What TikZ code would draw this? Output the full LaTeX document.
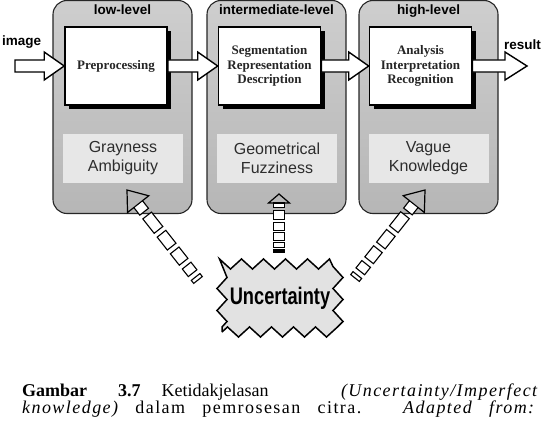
\documentclass[tikz,border=0pt]{standalone}
\usepackage{fontspec}
\setmainfont{Liberation Serif}
\setsansfont{Liberation Sans}
\newfontfamily\uncfont[FakeStretch=0.76]{Liberation Sans}
\usepackage{tikz}
\usepackage{xcolor}
\usetikzlibrary{calc,shapes,positioning,shadows,decorations.pathmorphing}
\definecolor{paneltop}{RGB}{206,206,206}
\definecolor{panelbot}{RGB}{182,182,182}
\definecolor{vague}{RGB}{231,231,231}
\definecolor{inktext}{RGB}{45,45,45}
\definecolor{cloudfill}{RGB}{226,226,226}
\newcommand{\bigarrow}[3]{%
  \draw[bigarr] let \p1=(#1), \p2=(#2) in
    (\x1,\y1+6pt) -- (\x2-#3,\y1+6pt) -- (\x2-#3,\y1+14pt) -- (\x2,\y1)
    -- (\x2-#3,\y1-14pt) -- (\x2-#3,\y1-6pt) -- (\x1,\y1-6pt) -- cycle;
}
\newcommand{\uncarrow}[4]{%
  \coordinate (#1-hb) at ($(#2)!#3!(#1)$);
  \foreach \a/\b in {0/0.04, 0.09/0.19, 0.24/0.39, 0.44/0.61, 0.66/0.85, 0.9/1}{
    \draw[dashbox] ($(#1)!\a!(#1-hb)!5.5pt!90:(#2)$) -- ($(#1)!\b!(#1-hb)!5.5pt!90:(#2)$)
      -- ($(#1)!\b!(#1-hb)!5.5pt!-90:(#2)$) -- ($(#1)!\a!(#1-hb)!5.5pt!-90:(#2)$) -- cycle;
  }
  \draw[unchead] ($(#1-hb)!5.5pt!90:(#2)$) -- ($(#1-hb)!#4!90:(#2)$) -- (#2)
    -- ($(#1-hb)!#4!-90:(#2)$) -- ($(#1-hb)!5.5pt!-90:(#2)$);
}

\begin{document}
\begin{tikzpicture}[x=1pt, y=-1pt,
    panel/.style={draw=black!85, line width=1.1pt, rounded corners=14pt,
        top color=paneltop, bottom color=panelbot,
        minimum width=139pt, minimum height=213pt, inner sep=0pt},
    hdr/.style={font=\sffamily\bfseries\fontsize{13.5}{15}\selectfont, inner sep=1pt},
    lvlbox/.style={draw, line width=1.6pt, fill=white, align=center,
        minimum width=102pt, minimum height=78pt, inner sep=2pt,
        drop shadow={shadow xshift=4pt, shadow yshift=-4pt, fill=black, opacity=1},
        font=\bfseries\fontsize{13}{14.5}\selectfont, text=black!85},
    vaguebox/.style={fill=vague, minimum width=120pt, minimum height=49pt,
        align=center, text=inktext, font=\sffamily\fontsize{16}{19}\selectfont},
    bigarr/.style={draw, line width=1.4pt, fill=white, line join=miter},
    dashbox/.style={draw, line width=1.1pt, fill=white},
    unchead/.style={draw, line width=1.2pt, line join=miter},
    cloudbox/.style={draw, line width=1.5pt, fill=cloudfill,
        decorate, decoration={zigzag, segment length=22pt, amplitude=5pt},
        minimum width=116pt, minimum height=68pt,
        font=\uncfont\bfseries\fontsize{24}{24}\selectfont},
    iolabel/.style={font=\sffamily\bfseries\fontsize{13.5}{14}\selectfont, inner sep=0pt},
    capline/.style={inner sep=0pt, anchor=base west, font=\fontsize{18}{18}\selectfont}]
    \useasboundingbox (0,0) rectangle (543,420);

    \node[panel] (low) at (122.5,107) {};
    \node[panel] (mid) at (276.5,107) {};
    \node[panel] (high) at (428.5,107) {};

    \node[hdr, below=4pt of low.north] (lowhdr) {low-level};
    \node[hdr, below=4pt of mid.north] (midhdr) {intermediate-level};
    \node[hdr, below=4pt of high.north] (highhdr) {high-level};

    \node[vaguebox] (gray) at (123,158.5) {Grayness\\Ambiguity};
    \node[vaguebox] (geom) at (277,158.5) {Geometrical\\Fuzziness};
    \node[vaguebox] (know) at (428.5,158.5) {Vague\\Knowledge};

    \node[cloudbox] (unc) at (280,298) {Uncertainty};
    \coordinate (ltail) at (198,280);
    \coordinate (ltip) at (127,190);
    \coordinate (mtail) at (279,252);
    \coordinate (mtip) at (279,194);
    \coordinate (rtail) at (355,278);
    \coordinate (rtip) at (425,190);
    \uncarrow{ltail}{ltip}{18pt}{13.5pt}
    \uncarrow{mtail}{mtip}{9pt}{10.5pt}
    \uncarrow{rtail}{rtip}{18pt}{13.5pt}

    \node[lvlbox] (prep) at (116,66) {Preprocessing};
    \node[lvlbox] (seg) at (269.5,66) {Segmentation\\Representation\\Description};
    \node[lvlbox] (ana) at (420.5,66) {Analysis\\Interpretation\\Recognition};

    \coordinate (imgin) at (15,66);
    \coordinate (resout) at (527,66);
    \bigarrow{imgin}{prep.west}{20pt}
    \bigarrow{prep.east}{seg.west}{20pt}
    \bigarrow{seg.east}{ana.west}{20pt}
    \bigarrow{ana.east}{resout}{22pt}

    \node[iolabel, anchor=west] (imglbl) at (2,42) {image};
    \node[iolabel, anchor=east] (reslbl) at (541,45) {result};

    \node[capline] (cap1) at (22,396) {\makebox[515pt][s]{\textbf{Gambar}\hspace{31pt}\textbf{3.7}\hspace{21pt}Ketidakjelasan\hfill{\itshape\addfontfeature{LetterSpace=8}(Uncertainty/Imperfect}}};
    \node[capline] (cap2) at (22,413) {\makebox[512pt][s]{\addfontfeature{LetterSpace=8}{\itshape knowledge)} dalam pemrosesan citra. {\itshape Adapted from:}}};
\end{tikzpicture}
\end{document}
